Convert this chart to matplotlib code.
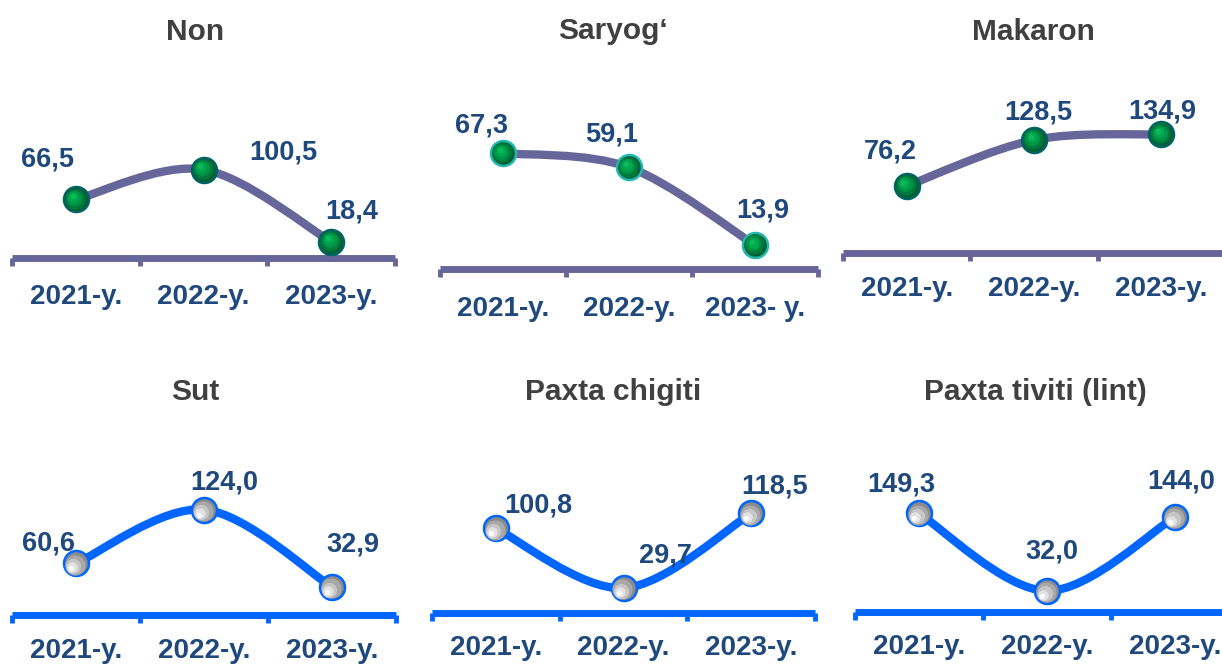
import matplotlib
matplotlib.use("Agg")
import matplotlib.pyplot as plt
from matplotlib.path import Path
from matplotlib.patches import PathPatch
from matplotlib.transforms import offset_copy

# ── Data ────────────────────────────────────────────────────────────────────

TITLES = ["Non", "Saryog\u2018", "Makaron", "Sut", "Paxta chigiti", "Paxta tiviti (lint)"]
YEARS = ["2021-y.", "2022-y.", "2023-y."]
YEARS_SARYOG = ["2021-y.", "2022-y.", "2023- y."]

NON = [66.5, 100.5, 18.4]
SARYOG = [67.3, 59.1, 13.9]
MAKARON = [76.2, 128.5, 134.9]
SUT = [60.6, 124.0, 32.9]
PAXTA_CHIGITI = [100.8, 29.7, 118.5]
PAXTA_TIVITI = [149.3, 32.0, 144.0]

SERIES = [NON, SARYOG, MAKARON, SUT, PAXTA_CHIGITI, PAXTA_TIVITI]
CATEGORIES = [YEARS, YEARS_SARYOG, YEARS, YEARS, YEARS, YEARS]

# ── Layout (pixels on a 1222x664 canvas) ────────────────────────────────────

W, H = 1222, 664
AX_H = 150
# x_left, x_right, baseline y, px per unit, title x, title y, tick label pad
PANELS = [
    (12, 395, 258, 0.88, 195, 32, 19.0),
    (440, 818, 269, 1.72, 613, 31, 19.6),
    (843, 1225, 253, 0.88, 1033, 32, 16.7),
    (12, 396, 615, 0.85, 195, 392, 16.5),
    (432, 815, 613, 0.84, 613, 392, 16.0),
    (855, 1239, 612, 0.66, 1035, 392, 16.0),
]
LABEL_OFFSETS = [
    [(-28, -40), (80, -17), (21, -30)],
    [(-21, -28), (-17, -33), (8, -35)],
    [(-16, -34), (4, -27), (1, -23)],
    [(-27, -20), (20, -27), (21, -43)],
    [(42, -23), (42, -33), (23, -27)],
    [(-18, -29), (5, -39), (6, -35)],
]

PURPLE = "#66669a"
BLUE = "#0066ff"
LABEL_C = "#1f497d"
TITLE_C = "#404040"
GREEN_EDGE = ["#006363", "#22b8b0", "#006363"]
GREEN_SHADES = ["#005f30", "#007a3c", "#009447", "#00a850", "#10b85c"]
GRAY_SHADES = ["#8a8a8a", "#a8a8a8", "#c6c6c6", "#e2e2e2", "#fafafa"]


def smooth_path(xs, ys):
    """Bezier path through the points (Excel-like smoothed line)."""
    pts = list(zip(xs, ys))
    n = len(pts)
    verts = [pts[0]]
    codes = [Path.MOVETO]
    for i in range(n - 1):
        p0 = pts[max(i - 1, 0)]
        p1 = pts[i]
        p2 = pts[i + 1]
        p3 = pts[min(i + 2, n - 1)]
        c1 = (p1[0] + (p2[0] - p0[0]) / 6, p1[1] + (p2[1] - p0[1]) / 6)
        c2 = (p2[0] - (p3[0] - p1[0]) / 6, p2[1] - (p3[1] - p1[1]) / 6)
        verts += [c1, c2, p2]
        codes += [Path.CURVE4] * 3
    return Path(verts, codes)


def draw_markers(fig, ax, xs, ys, shades, edge, shift):
    """Fake a shaded sphere: stacked circles drifting toward the highlight."""
    ax.plot(xs, ys, "o", ms=18, mfc=shades[0], mec=edge, mew=1.8,
            zorder=5, clip_on=False)
    sizes = [14.5, 11, 7.5, 4]
    for k, (shade, ms) in enumerate(zip(shades[1:], sizes), start=1):
        tr = offset_copy(ax.transData, fig, x=shift[0] * k, y=shift[1] * k,
                         units="points")
        ax.plot(xs, ys, "o", ms=ms, mfc=shade, mec="none", zorder=5 + k,
                transform=tr, clip_on=False)


fig = plt.figure(figsize=(W / 100, H / 100), dpi=100)
fig.patch.set_facecolor("white")

for idx, (title, values, cats) in enumerate(zip(TITLES, SERIES, CATEGORIES)):
    x0, x1, base, scale, tx, ty, pad = PANELS[idx]
    top_row = idx < 3
    color = PURPLE if top_row else BLUE

    ax = fig.add_axes([x0 / W, (H - base) / H, (x1 - x0) / W, AX_H / H])
    ax.set_facecolor("none")
    ax.set_xlim(-0.5, 2.5)
    ax.set_ylim(0, AX_H / scale)

    for side in ["top", "left", "right"]:
        ax.spines[side].set_visible(False)
    ax.spines["bottom"].set_color(color)
    ax.spines["bottom"].set_linewidth(5)
    ax.spines["bottom"].set_capstyle("butt")

    xs = list(range(len(values)))
    ax.add_patch(PathPatch(smooth_path(xs, values), fill=False, edgecolor=color,
                           lw=6, capstyle="round", zorder=3))

    if top_row:
        draw_markers(fig, ax, xs, values, GREEN_SHADES, GREEN_EDGE[idx], (-0.6, 0.6))
    else:
        draw_markers(fig, ax, xs, values, GRAY_SHADES, BLUE, (-0.9, -0.9))

    for x, v, (dx, dy) in zip(xs, values, LABEL_OFFSETS[idx]):
        ax.annotate(f"{v:.1f}".replace(".", ","), (x, v), xytext=(dx, -dy),
                    textcoords="offset pixels", ha="center", va="center",
                    fontsize=19.5, fontweight="bold", color=LABEL_C,
                    family=["Liberation Sans Narrow", "Liberation Sans"],
                    zorder=10, annotation_clip=False)

    ax.set_yticks([])
    ax.set_xticks(xs)
    ax.set_xticklabels(cats, fontsize=20, fontweight="bold", color=LABEL_C,
                       family="Liberation Sans")
    ax.tick_params(axis="x", which="major", length=0, pad=pad)
    ax.set_xticks([-0.5, 0.5, 1.5, 2.5], minor=True)
    ax.tick_params(axis="x", which="minor", length=6, width=3.5,
                   color=color, direction="out")

    fig.text(tx / W, 1 - ty / H, title, ha="center", va="center",
             fontsize=21.5, fontweight="bold", color=TITLE_C,
             family="Liberation Sans")

fig.savefig("out.png", dpi=100)
